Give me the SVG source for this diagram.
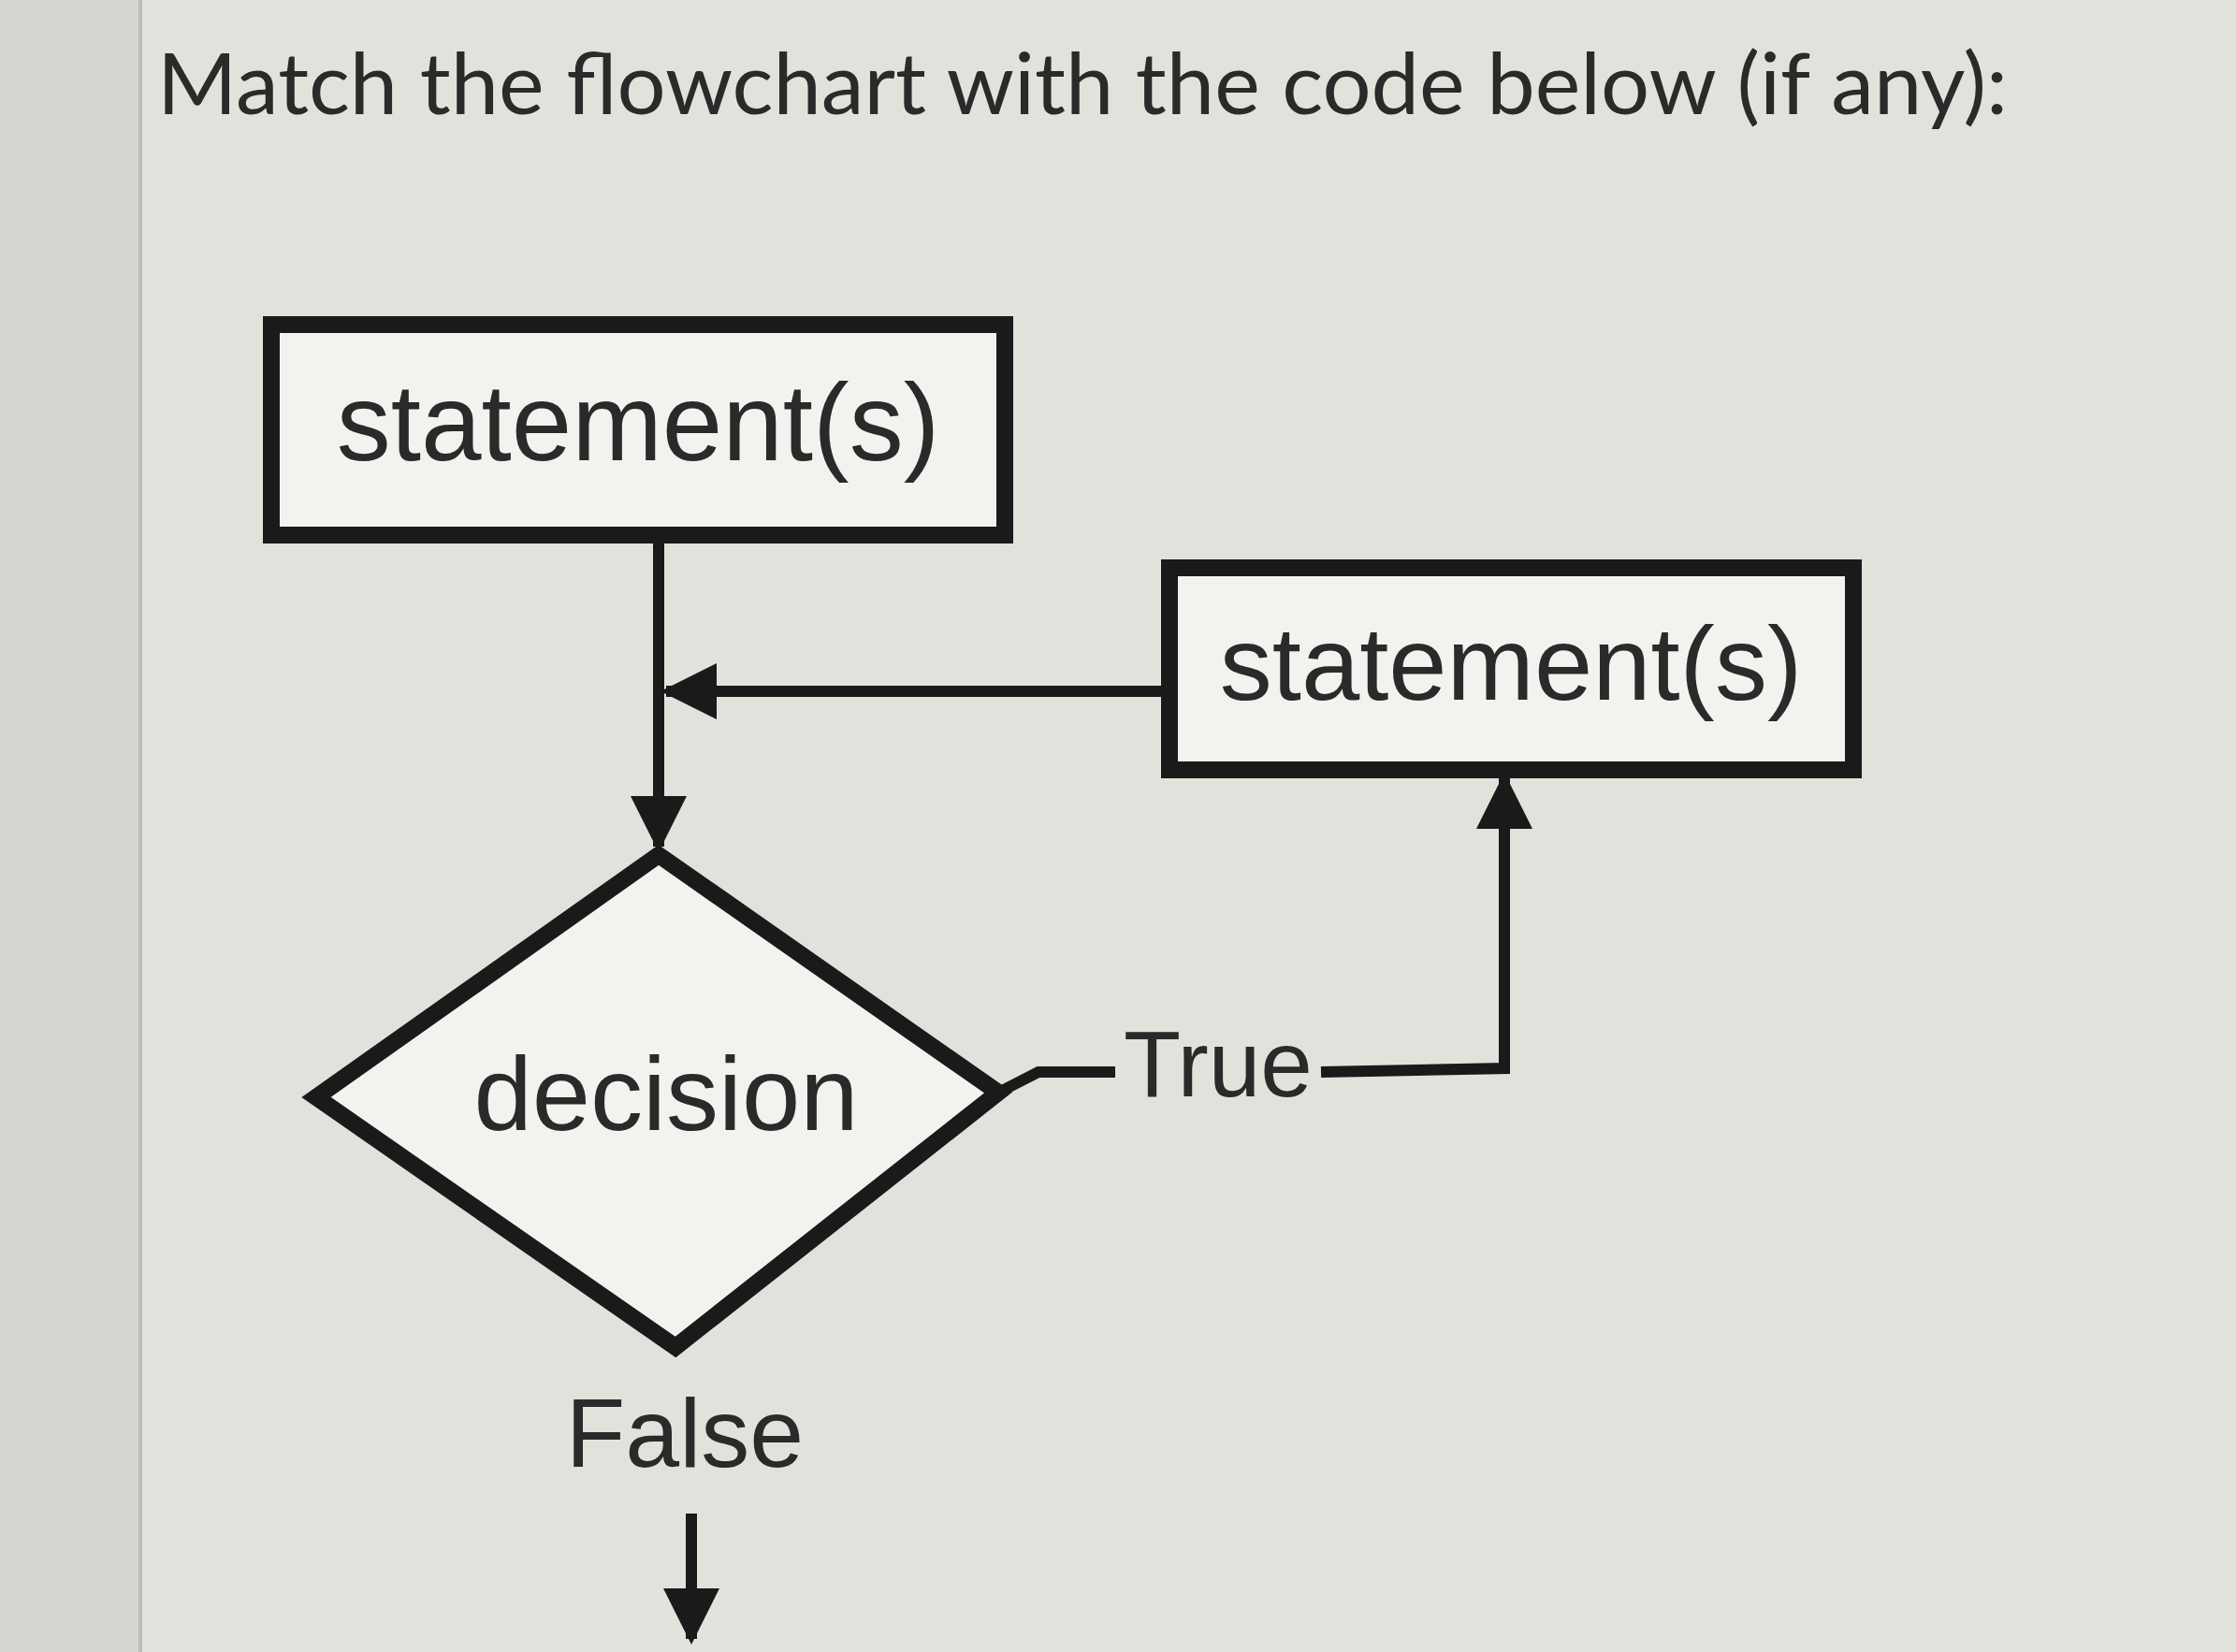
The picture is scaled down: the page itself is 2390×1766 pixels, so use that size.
<svg xmlns="http://www.w3.org/2000/svg" width="2390" height="1766" viewBox="0 0 2390 1766">
<style>
.box{fill:#f2f2ee;stroke:#1a1a1a;stroke-width:18}
.ln{fill:none;stroke:#1a1a1a;stroke-width:12}
.t{font-family:"Liberation Sans",Arial,sans-serif;fill:#2a2a2a;text-anchor:middle}
</style>
<defs>
<marker id="ah" viewBox="0 0 10 10" refX="9" refY="5" markerWidth="5" markerHeight="5" orient="auto" markerUnits="strokeWidth"><path d="M0,0L10,5L0,10z" fill="#1a1a1a"/></marker>
</defs>
<rect width="2390" height="1766" fill="#e2e2dc"/>
<rect x="0" y="0" width="150" height="1766" fill="#d6d6d0"/>
<line x1="150" y1="0" x2="150" y2="1766" stroke="#bcbcb6" stroke-width="4"/>
<text x="168" y="122" font-family="Lato,'Liberation Sans',sans-serif" font-size="92" fill="#2a2a2a">Match the flowchart with the code below (if any):</text>
<g id="connectors">
<line class="ln" x1="704" y1="572" x2="704" y2="905" marker-end="url(#ah)"/>
<line class="ln" x1="1250" y1="739" x2="712" y2="739" marker-end="url(#ah)"/>
<polyline class="ln" points="1067,1168 1110,1146 1192,1146"/>
<polyline class="ln" points="1412,1146 1608,1142 1608,832" marker-end="url(#ah)"/>
<line class="ln" x1="739" y1="1618" x2="739" y2="1752" stroke-width="8" marker-end="url(#ah)"/>
<text class="t" x="1302" y="1172" font-size="100">True</text>
<text class="t" x="732" y="1568" font-size="104" fill="#444">False</text>
</g>
<g id="box1">
<rect class="box" x="290" y="347" width="784" height="225"/>
<text class="t" x="682" y="492" font-size="116">statement(s)</text>
</g>
<g id="box2">
<rect class="box" x="1250" y="607" width="731" height="216"/>
<text class="t" x="1615" y="748" font-size="112">statement(s)</text>
</g>
<g id="decision">
<polygon class="box" points="704,914 1067,1168 722,1440 338,1173"/>
<text class="t" x="712" y="1208" font-size="112">decision</text>
</g>
</svg>
